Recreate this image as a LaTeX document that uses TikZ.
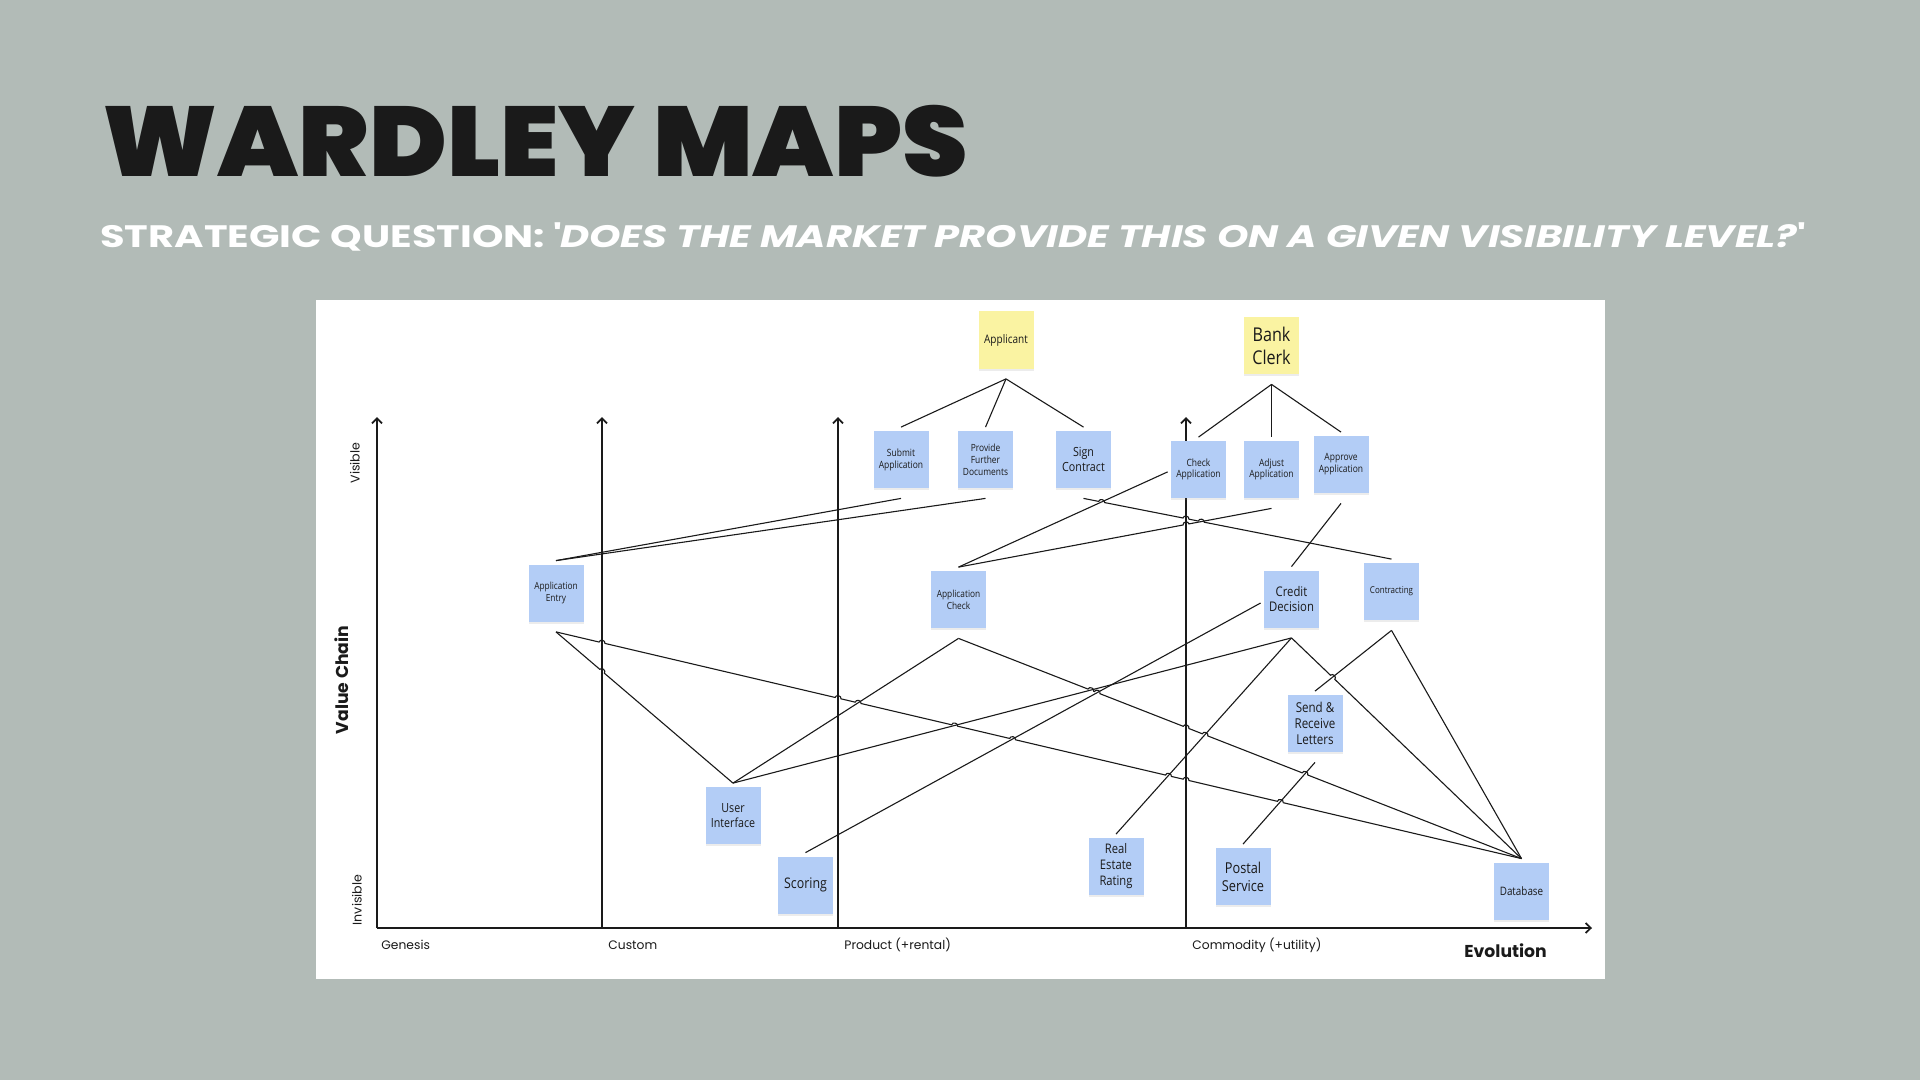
\documentclass[tikz,border=0pt]{standalone}
\usepackage{fontspec}
\usepackage{xcolor}
\usepackage{tikz}
\usetikzlibrary{arrows.meta,shadows,calc}
\setmainfont{Open Sans}
\newfontfamily\notefont{Open Sans}[FakeStretch=0.85]
\newfontfamily\poppins{Poppins}
\newfontfamily\widepoppins{Poppins}[FakeStretch=1.29]
\newfontfamily\heavyfont{Poppins Black}[FakeStretch=1.06]
\newcommand{\notesize}[2]{\notefont\fontsize{#1}{#2}\selectfont}
% line jump over a crossing: \hop{from}{crossing}{to}
\newcommand{\hop}[3]{-- ($(#2)!1.5pt!(#1)$) to[bend left=90,looseness=1.4] ($(#2)!1.5pt!(#3)$)}

\definecolor{slide}{HTML}{B2BBB7}
\definecolor{noteblue}{HTML}{B3CDF6}
\definecolor{noteyellow}{HTML}{FAF3A2}
\definecolor{ink}{HTML}{1A1A1A}

\tikzset{
  sticky/.style={fill=noteblue, minimum width=27.5pt, minimum height=28.5pt,
    inner sep=0.5pt, align=center, text=ink,
    drop shadow={opacity=0.15, shadow xshift=0pt, shadow yshift=-1pt}},
  person/.style={sticky, fill=noteyellow},
  axis/.style={line width=0.85pt, ink, -{Straight Barb[length=2.6pt,width=5pt]}},
  link/.style={line width=0.55pt, ink},
  stage/.style={anchor=base west, inner sep=0pt, text=ink, font=\poppins\fontsize{6.15}{7}\selectfont},
}

\begin{document}
\begin{tikzpicture}[x=0.5pt,y=-0.5pt]
  \fill[slide] (0,0) rectangle (1920,1080);
  \useasboundingbox (0,0) rectangle (1920,1080);

  % heading
  \node[anchor=base west, inner sep=0pt, text=ink, font=\heavyfont\fontsize{49.5}{50}\selectfont]
    (title) at (102,177) {WARDLEY MAPS};
  \node[anchor=base west, inner sep=0pt, text=white, font=\widepoppins\bfseries\fontsize{15.5}{16}\selectfont]
    (question) at (100,248) {STRATEGIC QUESTION: \textquotesingle\textit{DOES THE MARKET PROVIDE THIS ON A GIVEN VISIBILITY LEVEL?}\textquotesingle};

  % map panel
  \fill[white] (316,300) rectangle (1605,979);

  % axes and stages
  \coordinate (origin) at (377,928);
  \coordinate (cusB) at (602,928);  \coordinate (cusT) at (602,417);
  \coordinate (proB) at (838,928);  \coordinate (proT) at (838,417);
  \coordinate (comB) at (1186,928); \coordinate (comT) at (1186,417);
  \draw[axis] (origin) -- (377,417);
  \draw[axis] (origin) -- (1592,928);
  \draw[axis] (cusB) -- (cusT);
  \draw[axis] (proB) -- (proT);
  \draw[axis] (comB) -- (comT);
  \node[stage] (genesis) at (381,949) {Genesis};
  \node[stage] (custom) at (608,949) {Custom};
  \node[stage] (product) at (844,949) {Product (+rental)};
  \node[stage] (commodity) at (1192,949) {Commodity (+utility)};
  \node[anchor=base west, inner sep=0pt, text=ink, font=\poppins\bfseries\fontsize{8.6}{9}\selectfont]
    (evolution) at (1464,957) {Evolution};
  \node[rotate=90, inner sep=0pt, text=ink, font=\poppins\bfseries\fontsize{8.6}{9}\selectfont]
    (valuechain) at (342,680) {Value Chain};
  \node[rotate=90, inner sep=0pt, text=ink, font=\poppins\fontsize{6.3}{7}\selectfont]
    (visible) at (355,463) {Visible};
  \node[rotate=90, inner sep=0pt, text=ink, font=\poppins\fontsize{6.3}{7}\selectfont]
    (invisible) at (357,900) {Invisible};

  % users
  \node[person, font=\notesize{5.9}{7}] (applicant) at (1006,340) {Applicant};
  \node[person, font=\notesize{9.5}{11.5}] (clerk) at (1271.5,345.5) {Bank\\Clerk};

  % user needs
  \node[sticky, font=\notesize{5}{6}] (submit) at (901,459.5) {Submit\\Application};
  \node[sticky, font=\notesize{4.95}{6}] (provide) at (985.5,459.5) {Provide\\Further\\Documents};
  \node[sticky, font=\notesize{6.3}{7.2}] (sign) at (1083.5,459.5) {Sign\\Contract};
  \node[sticky, font=\notesize{5}{5.9}] (check) at (1198.5,469.5) {Check\\Application};
  \node[sticky, font=\notesize{5}{5.9}] (adjust) at (1271.5,469.5) {Adjust\\Application};
  \node[sticky, font=\notesize{5}{5.9}] (approve) at (1341,464.5) {Approve\\Application};

  % components
  \node[sticky, font=\notesize{4.9}{5.6}] (entry) at (556,593) {Application\\Entry};
  \node[sticky, font=\notesize{4.9}{5.9}] (appcheck) at (958.5,599.5) {Application\\Check};
  \node[sticky, font=\notesize{6.65}{7.9}] (credit) at (1291.5,599) {Credit\\Decision};
  \node[sticky, font=\notesize{4.7}{5.6}] (contracting) at (1391.5,591.5) {Contracting};
  \node[sticky, font=\notesize{6.8}{7.9}] (send) at (1315,723.5) {Send \&\\Receive\\Letters};
  \node[sticky, font=\notesize{6.3}{7.5}] (ui) at (733,815.5) {User\\Interface};
  \node[sticky, font=\notesize{7.3}{8}] (scoring) at (805.5,885) {Scoring};
  \node[sticky, font=\notesize{6.6}{8}] (estate) at (1116,866.5) {Real\\Estate\\Rating};
  \node[sticky, font=\notesize{7.5}{9}] (postal) at (1243,876.5) {Postal\\Service};
  \node[sticky, font=\notesize{5.8}{7}] (database) at (1521.5,891) {Database};

  \foreach \n in {applicant,clerk,submit,provide,sign,check,adjust,approve,entry,
                  appcheck,credit,contracting,send,ui,scoring,estate,postal,database}{
    \coordinate (\n T) at ([yshift=1.75pt]\n.north);
    \coordinate (\n B) at ([yshift=-5pt]\n.south);
  }
  \coordinate (checkW) at ([xshift=-1.5pt,yshift=-1.2pt]check.west);
  \coordinate (creditW) at ([xshift=-1.5pt,yshift=-2pt]credit.west);

  % crossings that get a jump
  \coordinate (s1) at (intersection of signB--contractingT and appcheckT--checkW);
  \coordinate (s2) at (intersection of signB--contractingT and comB--comT);
  \coordinate (s3) at (intersection of signB--contractingT and appcheckT--adjustB);
  \coordinate (a1) at (intersection of appcheckT--adjustB and comB--comT);
  \coordinate (e1) at (intersection of entryB--databaseT and cusB--cusT);
  \coordinate (e2) at (intersection of entryB--databaseT and proB--proT);
  \coordinate (e3) at (intersection of entryB--databaseT and uiT--appcheckB);
  \coordinate (e4) at (intersection of entryB--databaseT and uiT--creditB);
  \coordinate (e5) at (intersection of entryB--databaseT and scoringT--creditW);
  \coordinate (e6) at (intersection of entryB--databaseT and creditB--estateT);
  \coordinate (e7) at (intersection of entryB--databaseT and comB--comT);
  \coordinate (e8) at (intersection of entryB--databaseT and sendB--postalT);
  \coordinate (u1) at (intersection of entryB--uiT and cusB--cusT);
  \coordinate (c1) at (intersection of appcheckB--databaseT and uiT--creditB);
  \coordinate (c2) at (intersection of appcheckB--databaseT and scoringT--creditW);
  \coordinate (c3) at (intersection of appcheckB--databaseT and comB--comT);
  \coordinate (c4) at (intersection of appcheckB--databaseT and creditB--estateT);
  \coordinate (c5) at (intersection of appcheckB--databaseT and sendB--postalT);
  \coordinate (d1) at (intersection of creditB--databaseT and contractingB--sendT);

  % value chain links
  \draw[link] (applicantB) -- (submitT);
  \draw[link] (applicantB) -- (provideT);
  \draw[link] (applicantB) -- (signT);
  \draw[link] (clerkB) -- (checkT);
  \draw[link] (clerkB) -- (adjustT);
  \draw[link] (clerkB) -- (approveT);
  \draw[link] (entryT) -- (submitB);
  \draw[link] (entryT) -- (provideB);
  \draw[link] (signB) \hop{signB}{s1}{contractingT} \hop{signB}{s2}{contractingT}
    \hop{signB}{s3}{contractingT} -- (contractingT);
  \draw[link] (appcheckT) -- (checkW);
  \draw[link] (appcheckT) \hop{appcheckT}{a1}{adjustB} -- (adjustB);
  \draw[link] (approveB) -- (creditT);
  \draw[link] (entryB) \hop{entryB}{e1}{databaseT} \hop{entryB}{e2}{databaseT}
    \hop{entryB}{e3}{databaseT} \hop{entryB}{e4}{databaseT} \hop{entryB}{e5}{databaseT}
    \hop{entryB}{e6}{databaseT} \hop{entryB}{e7}{databaseT} \hop{entryB}{e8}{databaseT}
    -- (databaseT);
  \draw[link] (entryB) \hop{entryB}{u1}{uiT} -- (uiT);
  \draw[link] (uiT) -- (appcheckB);
  \draw[link] (uiT) -- (creditB);
  \draw[link] (appcheckB) \hop{appcheckB}{c1}{databaseT} \hop{appcheckB}{c2}{databaseT}
    \hop{appcheckB}{c3}{databaseT} \hop{appcheckB}{c4}{databaseT}
    \hop{appcheckB}{c5}{databaseT} -- (databaseT);
  \draw[link] (scoringT) -- (creditW);
  \draw[link] (creditB) -- (estateT);
  \draw[link] (creditB) \hop{creditB}{d1}{databaseT} -- (databaseT);
  \draw[link] (contractingB) -- (sendT);
  \draw[link] (contractingB) -- (databaseT);
  \draw[link] (sendB) -- (postalT);
\end{tikzpicture}
\end{document}
